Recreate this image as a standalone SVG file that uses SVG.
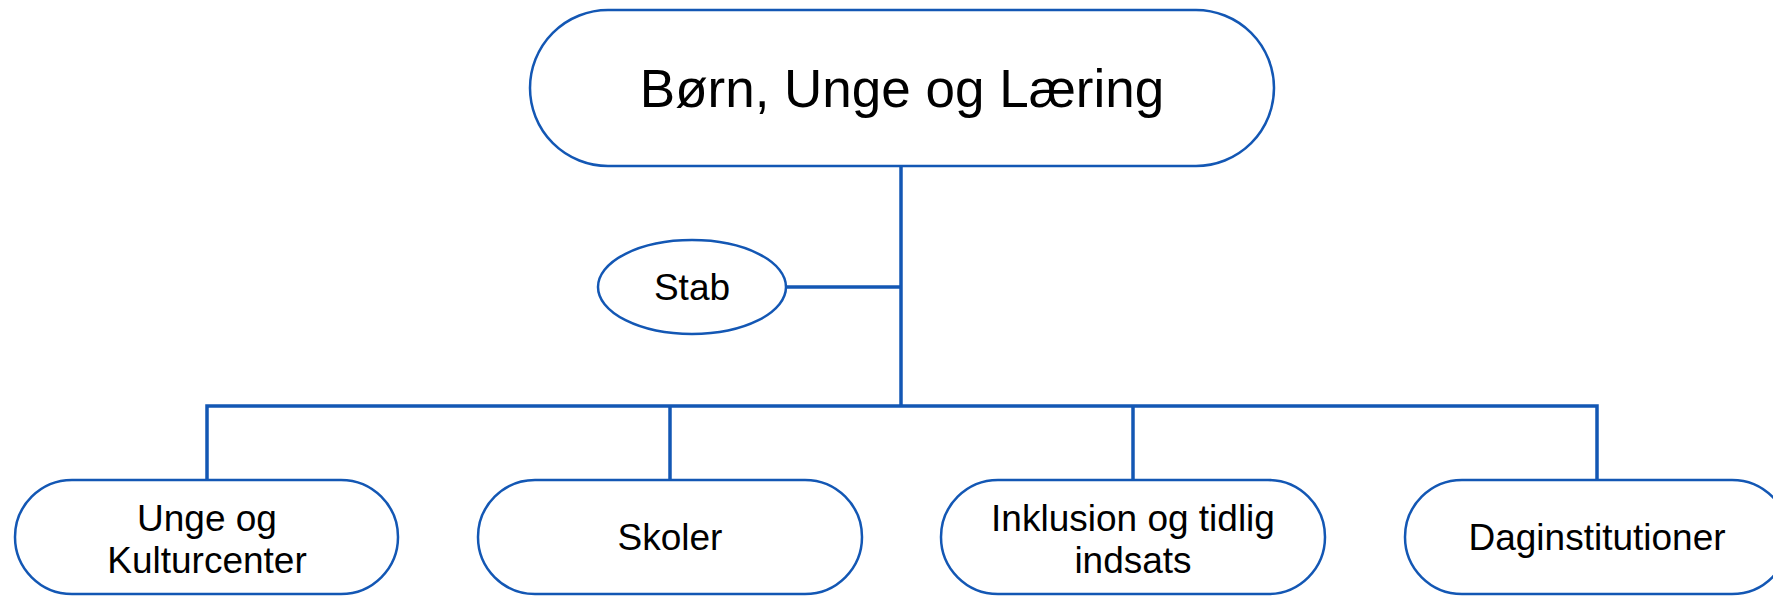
<svg xmlns="http://www.w3.org/2000/svg" width="1773" height="596" viewBox="0 0 1773 596">
<style>
.n{fill:#fff;stroke:#1357B4;stroke-width:2.5}
.c{fill:none;stroke:#1357B4;stroke-width:3.5}
.t{font-family:"Liberation Sans",Arial,sans-serif;fill:#000;text-anchor:middle}
</style>
<rect width="1773" height="596" fill="#fff"/>
<g id="connectors">
<line class="c" x1="901" y1="166" x2="901" y2="407"/>
<line class="c" x1="786" y1="287" x2="901" y2="287"/>
<polyline class="c" points="207,480 207,406 1597,406 1597,480"/>
<line class="c" x1="670" y1="406" x2="670" y2="480"/>
<line class="c" x1="1133" y1="406" x2="1133" y2="480"/>
</g>
<g id="top">
<rect class="n" x="530" y="10" width="744" height="156" rx="78"/>
<text class="t" x="902" y="107" font-size="53">Børn, Unge og Læring</text>
</g>
<g id="stab">
<ellipse class="n" cx="692" cy="287" rx="94" ry="47"/>
<text class="t" x="692" y="300" font-size="37">Stab</text>
</g>
<g id="unge">
<rect class="n" x="15" y="480" width="383" height="114" rx="57"/>
<text class="t" x="207" y="531" font-size="37">Unge og</text>
<text class="t" x="207" y="573" font-size="37">Kulturcenter</text>
</g>
<g id="skoler">
<rect class="n" x="478" y="480" width="384" height="114" rx="57"/>
<text class="t" x="670" y="550" font-size="37">Skoler</text>
</g>
<g id="inklusion">
<rect class="n" x="941" y="480" width="384" height="114" rx="57"/>
<text class="t" x="1133" y="531" font-size="37">Inklusion og tidlig</text>
<text class="t" x="1133" y="573" font-size="37">indsats</text>
</g>
<g id="dag">
<rect class="n" x="1405" y="480" width="384" height="114" rx="57"/>
<text class="t" x="1597" y="550" font-size="37">Daginstitutioner</text>
</g>
</svg>
